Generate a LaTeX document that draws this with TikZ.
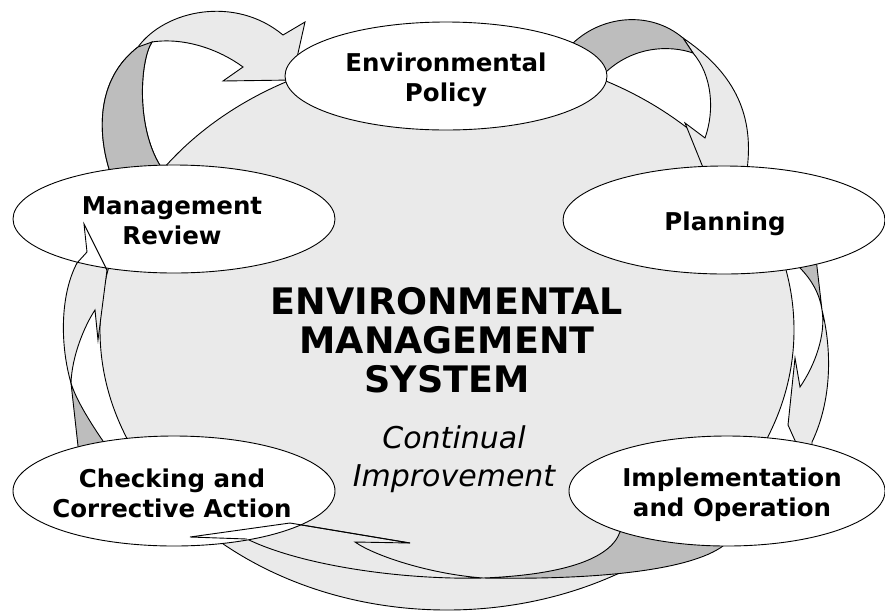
\documentclass[tikz,border=0pt]{standalone}
\usepackage{fontspec}
\setmainfont{DejaVu Sans}
\usepackage{tikz}
\usetikzlibrary{shapes.geometric}
\definecolor{emsgrey}{HTML}{EAEAEA}
\definecolor{emsdark}{HTML}{BDBDBD}

\begin{document}
\begin{tikzpicture}[x=1pt, y=-1pt, line width=0.9pt,
    stage/.style={ellipse, draw=black, fill=white, minimum width=322pt, minimum height=108pt, inner sep=0pt},
    stagetext/.style={font=\fontsize{24.5}{30}\selectfont\bfseries, align=center, inner sep=0pt},
    ribbon/.style={fill=emsgrey, draw=black},
    twist/.style={fill=emsdark, draw=black}]
    \useasboundingbox (0,0) rectangle (885,611);

    % draw big grey disc
    \filldraw[fill=emsgrey, draw=black] (447,330) ellipse [x radius=347pt, y radius=280pt];

    % draw arrow review -> policy
    \filldraw[ribbon] (110,172) .. controls (98,135) and (95,80) .. (138,47)
        .. controls (165,10) and (235,-5) .. (283,35)
        -- (305,22) -- (292,80) -- (223,81) -- (243,67)
        .. controls (220,50) and (185,37) .. (152,42)
        .. controls (140,60) and (135,130) .. (163,170) -- (136,185) -- cycle;
    \filldraw[twist] (110,172) .. controls (98,135) and (95,80) .. (138,47)
        -- (152,42) .. controls (140,60) and (135,130) .. (163,170) -- (136,185) -- cycle;

    % draw arrow policy -> planning
    \filldraw[ribbon] (683,38) .. controls (730,70) and (755,110) .. (747,170)
        -- (725,185) -- (704,170) -- (685,123) -- (705,138)
        .. controls (715,110) and (712,75) .. (693,53) -- cycle;
    \filldraw[twist] (570,46) .. controls (600,15) and (650,10) .. (683,38)
        -- (693,53) .. controls (670,45) and (630,45) .. (600,78) -- cycle;

    % draw arrow planning -> implementation
    \filldraw[ribbon] (822,310) .. controls (832,350) and (832,400) .. (812,442)
        -- (812,450) -- (800,455) -- (797,445) -- (788,425) -- (795,358) -- (800,387)
        .. controls (815,365) and (826,335) .. (822,310) -- cycle;
    \filldraw[twist] (797,260) -- (800,268) .. controls (812,280) and (820,295) .. (822,310)
        -- (817,267) -- (816,258) -- cycle;

    % draw arrow implementation -> checking
    \filldraw[ribbon] (483,578) .. controls (400,580) and (300,565) .. (247,539)
        -- (190,537) -- (290,523) -- (410,543) -- (355,542)
        .. controls (375,556) and (430,574) .. (483,578) -- cycle;
    \filldraw[twist] (483,578) .. controls (560,575) and (610,560) .. (620,532)
        -- (625,520) -- (723,535) -- (723,546) .. controls (690,570) and (600,580) .. (483,578) -- cycle;

    % draw arrow checking -> review
    \filldraw[ribbon] (71,383) .. controls (60,345) and (60,295) .. (77,263)
        -- (87,252) -- (84,224) -- (107,270) -- (98,340) -- (95,310)
        .. controls (85,325) and (72,355) .. (71,383) -- cycle;
    \filldraw[twist] (71,383) -- (79,455) -- (105,452) -- (103,441)
        .. controls (92,425) and (76,400) .. (71,383) -- cycle;

    % draw the five stages
    \node[stage] (policy) at (446,76) {};
    \node[stage] (planning) at (724,220) {};
    \node[stage, minimum width=316pt, minimum height=110pt] (implementation) at (727,491) {};
    \node[stage, minimum height=110pt] (checking) at (174,491) {};
    \node[stage] (review) at (174,219) {};

    % redraw arrow heads lying on the stages
    \draw (247,539) -- (190,537) -- (290,523) -- (410,543);
    \draw (77,263) -- (87,252) -- (84,224) -- (107,270);

    % draw labels
    \node[stagetext] (policy text) at (446,80) {Environmental\\Policy};
    \node[stagetext] (planning text) at (725,224) {Planning};
    \node[stagetext] (implementation text) at (732,495) {Implementation\\and Operation};
    \node[stagetext] (checking text) at (172,493) {Checking and\\Corrective Action};
    \node[stagetext] (review text) at (172,221) {Management\\Review};

    \node[font=\fontsize{36.5}{39}\selectfont\bfseries, align=center, inner sep=0pt] (ems) at (447,340)
        {ENVIRONMENTAL\\MANAGEMENT\\SYSTEM};
    \node[font=\fontsize{30}{38}\selectfont\itshape, align=center, inner sep=0pt] (improvement) at (454,459)
        {Continual\\Improvement};

\end{tikzpicture}
\end{document}
